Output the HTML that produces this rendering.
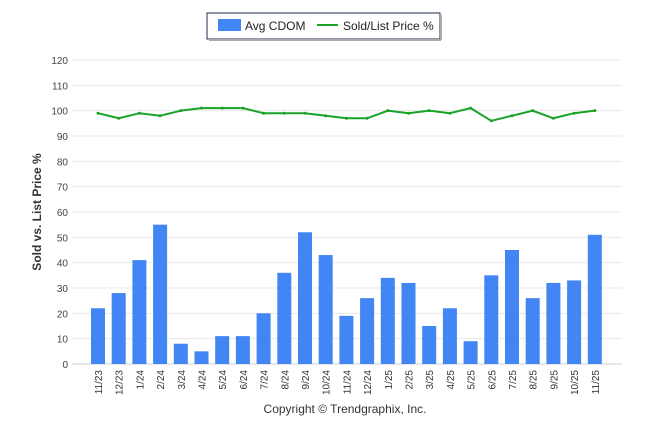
<!DOCTYPE html>
<html><head><meta charset="utf-8"><style>
body{margin:0;background:#fff;font-family:"Liberation Sans",sans-serif}
svg text{font-family:"Liberation Sans",sans-serif}
</style></head><body>
<svg id="c" width="646" height="434" xmlns="http://www.w3.org/2000/svg">
<g>
<rect x="207" y="13" width="233" height="26" fill="#fff" stroke="#1f2d4d" stroke-width="1"/>
<line x1="209" y1="40" x2="441" y2="40" stroke="#aaa" stroke-width="2"/>
<line x1="441" y1="15" x2="441" y2="40" stroke="#aaa" stroke-width="2"/>
<rect x="218" y="19" width="23" height="12" fill="#4285f4"/>
<text x="245" y="30" font-size="12" fill="#222">Avg CDOM</text>
<line x1="317" y1="25" x2="338" y2="25" stroke="#1aa328" stroke-width="2"/>
<text x="343" y="30" font-size="12" fill="#222">Sold/List Price %</text>
</g>
<text transform="translate(41,212) rotate(-90)" text-anchor="middle" font-size="12" font-weight="bold" fill="#333">Sold vs. List Price %</text>
<text x="345" y="413" text-anchor="middle" font-size="12" fill="#333">Copyright © Trendgraphix, Inc.</text>
<g id="grid"></g><g id="bars"></g><g id="line"></g><g id="labels"></g>
</svg>
<script>
const categories=["11/23","12/23","1/24","2/24","3/24","4/24","5/24","6/24","7/24","8/24","9/24","10/24","11/24","12/24","1/25","2/25","3/25","4/25","5/25","6/25","7/25","8/25","9/25","10/25","11/25"];
const cdom=[22,28,41,55,8,5,11,11,20,36,52,43,19,26,34,32,15,22,9,35,45,26,32,33,51];
const price=[99,97,99,98,100,101,101,101,99,99,99,98,97,97,100,99,100,99,101,96,98,100,97,99,100];
const yTicks=[0,10,20,30,40,50,60,70,80,90,100,110,120];
const NS="http://www.w3.org/2000/svg";
const y0=364,y1=60,ymax=120,xl=72,xr=622;
const y=v=>y0-(v/ymax)*(y0-y1);
const step=20.7, x=i=>98+i*step;
function mk(t,a,p){const e=document.createElementNS(NS,t);for(const k in a)e.setAttribute(k,a[k]);p.appendChild(e);return e;}
const g=document.getElementById('grid');
yTicks.forEach(v=>{
 const l=mk('line',{x1:xl,x2:xr,y1:y(v),y2:y(v),stroke:v===0?'#ccc':'#e8e8e8','stroke-width':1},g);
 
 
 const t=mk('text',{x:68,y:y(v)+4,'text-anchor':'end','font-size':10,fill:'#444'},g);
 t.textContent=v;
 
 
});
const b=document.getElementById('bars');
cdom.forEach((v,i)=>{
 const r=mk('rect',{x:x(i)-7,y:y(v),width:14,height:y0-y(v),fill:'#4285f4'},b);
 
 
});
const lg=document.getElementById('line');
const pl=mk('polyline',{points:price.map((v,i)=>x(i)+','+y(v)).join(' '),fill:'none',stroke:'#1aa328','stroke-width':2,'stroke-linejoin':'round'},lg);


price.forEach((v,i)=>{
 const c=mk('circle',{cx:x(i),cy:y(v),r:1.5,fill:'#1aa328'},lg);
 
 
});
const lb=document.getElementById('labels');
categories.forEach((c,i)=>{
 const t=mk('text',{transform:`translate(${x(i)+4},370) rotate(-90)`,'text-anchor':'end','font-size':10,fill:'#333'},lb);
 t.textContent=c;
 
 
});
</script>
</body></html>
